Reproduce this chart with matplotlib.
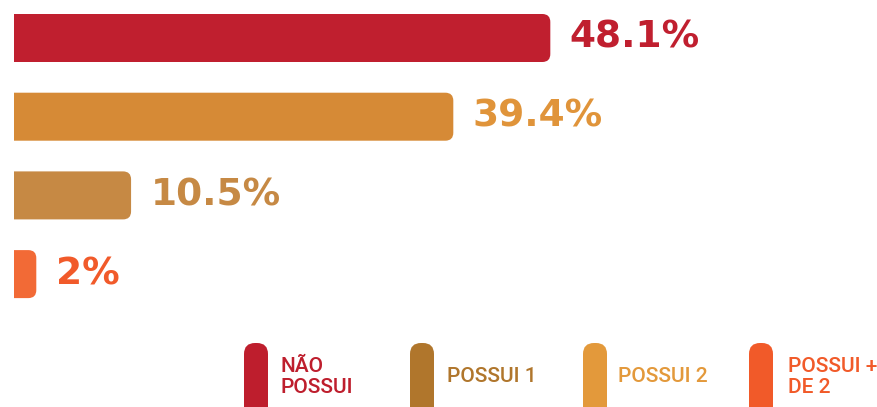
"""
Horizontal bar chart of ownership shares with a custom pill legend.
"""

import matplotlib.pyplot as plt
from matplotlib.patches import FancyBboxPatch, Rectangle

# data
values = [48.1, 39.4, 10.5, 2]
value_labels = ["48.1%", "39.4%", "10.5%", "2%"]
bar_colors = ["#C01F2F", "#D68A36", "#C68944", "#F26A36"]
text_colors = ["#C01F2F", "#E0943A", "#C68944", "#F15A2A"]

legend_labels = ["NÃO\nPOSSUI", "POSSUI 1", "POSSUI 2", "POSSUI +\nDE 2"]
legend_colors = ["#BE1E2D", "#B0762C", "#E3993B", "#F15A29"]

W, H = 877, 407
fig = plt.figure(figsize=(W / 100, H / 100), dpi=100)
ax = fig.add_axes([0, 0, 1, 1])

px_x = 11.15   # pixels per percent
px_y = 78.7    # pixels per bar slot
ax.set_xlim(-14 / px_x, (W - 14) / px_x)
ax.set_ylim((H - 38) / px_y, -38 / px_y)
ax.axis("off")

bar_h = 48 / px_y
radius = 8 / px_x
aspect = px_x / px_y

# clip everything left of zero so bars get a square left edge
clip = Rectangle((0, -1), 200, 10, transform=ax.transData)

for i, (v, c) in enumerate(zip(values, bar_colors)):
    y0 = i - bar_h / 2
    p = FancyBboxPatch((-3, y0), v + 3, bar_h,
                       boxstyle=f"round,pad=0,rounding_size={radius}",
                       mutation_aspect=aspect, fc=c, ec="none")
    ax.add_patch(p)
    p.set_clip_path(clip)
    ax.annotate(value_labels[i], (v, i), xytext=(14, 0), textcoords="offset points",
                ha="left", va="center", fontsize=27, fontweight="bold",
                family="DejaVu Sans", color=text_colors[i])

# legend in pixel space
lax = fig.add_axes([0, 0, 1, 1])
lax.set_xlim(0, W)
lax.set_ylim(H, 0)
lax.axis("off")

pill_x = [244, 410, 583, 749]
text_x = [280, 447, 618, 788]
for px, tx, lab, c in zip(pill_x, text_x, legend_labels, legend_colors):
    lax.add_patch(FancyBboxPatch((px, 343), 24, 90,
                                 boxstyle="round,pad=0,rounding_size=11",
                                 fc=c, ec="none"))
    lax.text(tx, 377, lab, ha="left", va="center", fontsize=15,
             fontweight="medium", family="Roboto", color=c, linespacing=1.1)

fig.savefig("out.png", dpi=100)
